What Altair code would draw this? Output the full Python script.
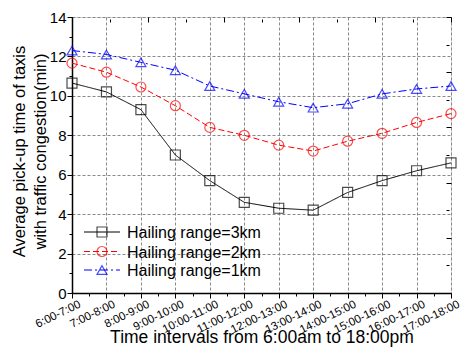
import json
import altair as alt
import pandas as pd

intervals = ["6:00-7:00", "7:00-8:00", "8:00-9:00", "9:00-10:00", "10:00-11:00",
             "11:00-12:00", "12:00-13:00", "13:00-14:00", "14:00-15:00",
             "15:00-16:00", "16:00-17:00", "17:00-18:00"]
series_names = ["Hailing range=3km", "Hailing range=2km", "Hailing range=1km"]
range_3km = [10.65, 10.2, 9.3, 7.0, 5.7, 4.6, 4.3, 4.2, 5.1, 5.7, 6.2, 6.6]
range_2km = [11.66, 11.2, 10.45, 9.5, 8.4, 8.0, 7.5, 7.2, 7.7, 8.1, 8.65, 9.1]
range_1km = [12.3, 12.1, 11.7, 11.3, 10.5, 10.1, 9.7, 9.4, 9.6, 10.1, 10.35, 10.5]
colors = ["#000000", "#FF0000", "#0000FF"]
shapes = ["square", "circle", "triangle-up"]
dashes = [[1, 0], [6, 3], [8, 3, 2, 3]]

FONT = "Liberation Sans"
W, H = 379, 276

rows = []
for name, vals in zip(series_names, [range_3km, range_2km, range_1km]):
    for i, v in enumerate(vals):
        rows.append({"idx": i, "interval": intervals[i], "series": name, "value": v})
df = pd.DataFrame(rows)

labels_js = json.dumps(intervals)

x_axis = alt.Axis(
    values=[i * 0.5 for i in range(23)],
    labelExpr=f"datum.value % 1 === 0 ? {labels_js}[datum.value] : ''",
    labelAngle=-26, labelAlign="right", labelBaseline="top",
    labelOffset=5, labelPadding=0, labelFontSize=11.5, labelColor="black",
    labelFont=FONT, labelOverlap=False, labelBound=False,
    tickSize={"expr": "datum.value % 1 === 0 ? 5 : 3"},
    tickColor="black", tickWidth=1,
    domainColor="black", domainWidth=1.5,
    grid=True, gridColor="#888888", gridDash=[3, 2], gridWidth=1,
    gridOpacity={"expr": "datum.value % 1 === 0 ? 1 : 0"},
    title="Time intervals from 6:00am to 18:00pm",
    titleFontSize=17.5, titleFont=FONT, titleFontWeight="normal", titleColor="black",
    titleX=W / 2, titleY=49, titleBaseline="alphabetic", titleAlign="center",
)
y_axis = alt.Axis(
    values=list(range(0, 15)),
    labelExpr="datum.value % 2 === 0 ? datum.label : ''",
    labelFontSize=15, labelColor="black", labelFont=FONT, labelPadding=1,
    tickSize={"expr": "datum.value % 2 === 0 ? 5 : 3"},
    tickColor="black", tickWidth=1,
    domainColor="black", domainWidth=1.5,
    grid=True, gridColor="#888888", gridDash=[3, 2], gridWidth=1,
    gridOpacity={"expr": "datum.value % 2 === 0 ? 1 : 0"},
    title=["Average pick-up time of taxis", "with traffic congestion(min)"],
    titleFontSize=16.5, titleFont=FONT, titleFontWeight="normal", titleColor="black",
    titleLineHeight=21, titleAngle=270, titleAlign="center",
    titleBaseline="alphabetic", titleX=-48, titleY=134,
)

xs = alt.Scale(domain=[0, 11], nice=False, zero=False)
ys = alt.Scale(domain=[0, 14], nice=False, zero=False)
col = alt.Scale(domain=series_names, range=colors)

lines = alt.Chart(df).mark_line(strokeWidth=1).encode(
    x=alt.X("idx:Q", scale=xs, axis=x_axis),
    y=alt.Y("value:Q", scale=ys, axis=y_axis),
    color=alt.Color("series:N", scale=col, legend=None),
    strokeDash=alt.StrokeDash("series:N", scale=alt.Scale(domain=series_names, range=dashes), legend=None),
)
points = alt.Chart(df).mark_point(filled=False, size=100, strokeWidth=1.2).encode(
    x=alt.X("idx:Q", scale=xs, axis=x_axis),
    y=alt.Y("value:Q", scale=ys, axis=y_axis),
    color=alt.Color("series:N", scale=col, legend=None),
    shape=alt.Shape("series:N", scale=alt.Scale(domain=series_names, range=shapes), legend=None),
)

legend_layers = []
legend_rows = [215, 234.5, 253]
for i, name in enumerate(series_names):
    ld = pd.DataFrame({"series": [name]})
    legend_layers.append(alt.Chart(ld).mark_rule(color=colors[i], strokeWidth=1, strokeDash=dashes[i]).encode(
        x=alt.value(12), x2=alt.value(48), y=alt.value(legend_rows[i])))
    legend_layers.append(alt.Chart(ld).mark_point(filled=False, size=100, strokeWidth=1.2,
                                                  color=colors[i], shape=shapes[i]).encode(
        x=alt.value(30), y=alt.value(legend_rows[i])))
    legend_layers.append(alt.Chart(ld).mark_text(align="left", baseline="middle", fontSize=16,
                                                 font=FONT, color="black").encode(
        x=alt.value(55), y=alt.value(legend_rows[i] + 1), text="series:N"))

mirror_df = pd.DataFrame({"m": [0, 10]})
ms = alt.Scale(domain=[0, 10], nice=False, zero=False)
mirror = alt.Chart(mirror_df).mark_point(opacity=0).encode(
    x=alt.X("m:Q", scale=ms, axis=alt.Axis(orient="top", values=list(range(11)), labels=False,
                                            domain=False, grid=False, title=None, offset=-5,
                                            tickColor="black",
                                            tickSize={"expr": "datum.value % 2 === 0 ? 5 : 3"})),
    y=alt.Y("m:Q", scale=ms, axis=alt.Axis(orient="right", values=list(range(11)), labels=False,
                                            domain=False, grid=False, title=None, offset=-5,
                                            tickColor="black",
                                            tickSize={"expr": "datum.value % 2 === 0 ? 5 : 3"})),
)

main = alt.layer(lines, points)

chart = alt.layer(mirror, main, *legend_layers).resolve_scale(x="independent", y="independent").properties(
    width=W, height=H,
    autosize=alt.AutoSizeParams(type="none"),
    padding={"left": 72, "top": 17, "right": 9, "bottom": 55},
    background="white",
).configure_view(stroke="black", strokeWidth=1.5).configure(font=FONT)

chart.save("out.html", embed_options={"renderer": "svg", "actions": False})
